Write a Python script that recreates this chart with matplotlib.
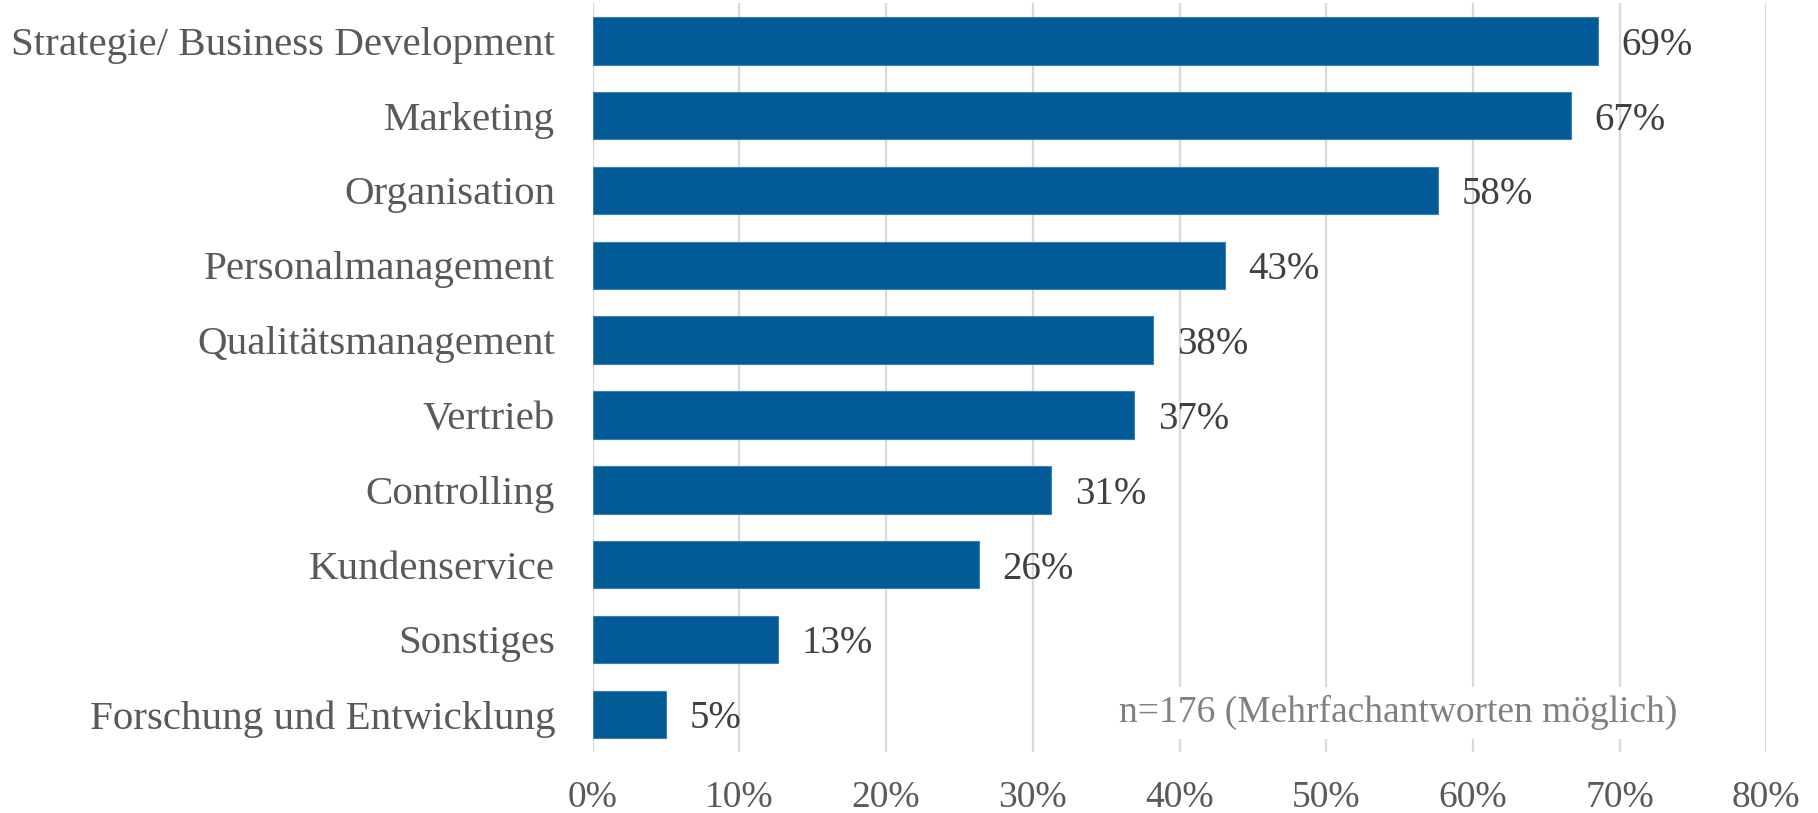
import matplotlib.pyplot as plt
from matplotlib.ticker import PercentFormatter

# Bereiche, in denen Beratung in Anspruch genommen wurde (n=176)
categories = [
    "Strategie/ Business Development",
    "Marketing",
    "Organisation",
    "Personalmanagement",
    "Qualitätsmanagement",
    "Vertrieb",
    "Controlling",
    "Kundenservice",
    "Sonstiges",
    "Forschung und Entwicklung",
]
shares = [0.6853, 0.667, 0.576, 0.431, 0.382, 0.369, 0.3125, 0.263, 0.126, 0.050]
x_ticks = [0, 0.1, 0.2, 0.3, 0.4, 0.5, 0.6, 0.7, 0.8]
note = "n=176 (Mehrfachantworten möglich)"

BAR_COLOR = "#025a96"
GRID_COLOR = "#d9d9d9"
LABEL_COLOR = "#595959"
VALUE_COLOR = "#404040"

plt.rcParams["font.family"] = ["Liberation Serif", "DejaVu Serif"]

fig = plt.figure(figsize=(18.18, 8.13), dpi=100)
ax = fig.add_axes([0.326, 0.0754, 0.6456, 0.9204])

ypos = list(range(len(categories)))
bars = ax.barh(ypos, shares, height=0.635, color=BAR_COLOR,
               edgecolor="#3f7fb5", linewidth=0.8, zorder=3)

for bar, val in zip(bars, shares):
    ax.annotate(f"{val:.0%}", (bar.get_width(), bar.get_y() + bar.get_height() / 2),
                xytext=(17, 0), textcoords="offset points",
                ha="left", va="center_baseline", fontsize=28, color=VALUE_COLOR)

ax.set_xlim(0, 0.8)
ax.set_ylim(len(categories) - 0.5, -0.5)
ax.set_xticks(x_ticks)
ax.xaxis.set_major_formatter(PercentFormatter(1.0, decimals=0))
ax.set_yticks(ypos)
ax.set_yticklabels(categories)

ax.grid(axis="x", color=GRID_COLOR, linewidth=1.6, zorder=0)
ax.set_axisbelow(True)
for s in ax.spines.values():
    s.set_visible(False)

ax.tick_params(axis="x", length=0, pad=21, labelsize=27, labelcolor=LABEL_COLOR)
ax.tick_params(axis="y", length=0, pad=27, labelsize=29.5, labelcolor=LABEL_COLOR)

ax.text(0.686, 0.052, note, transform=ax.transAxes, ha="center", va="center",
        fontsize=27, color="#808080", zorder=4,
        bbox=dict(facecolor="white", edgecolor="none", pad=6))

fig.savefig("out.png", dpi=100, facecolor="white")
